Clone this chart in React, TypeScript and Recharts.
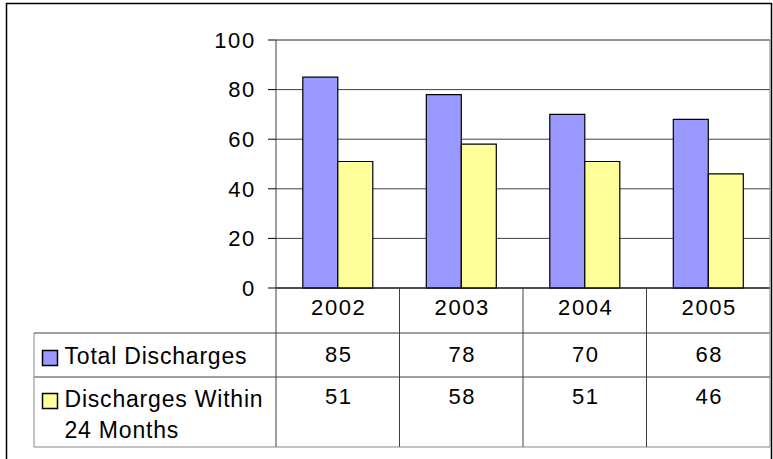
import { Bar, BarChart, CartesianGrid, ReferenceLine, XAxis, YAxis } from "recharts";

const CATEGORIES = ["2002", "2003", "2004", "2005"];
const TOTAL_DISCHARGES = [85, 78, 70, 68];
const WITHIN_24_MONTHS = [51, 58, 51, 46];
const Y_TICKS = [0, 20, 40, 60, 80, 100];
const SERIES_LABELS = [["Total Discharges"], ["Discharges Within", "24 Months"]];

const data = CATEGORIES.map((year, i) => ({
  year,
  total: TOTAL_DISCHARGES[i],
  within: WITHIN_24_MONTHS[i],
}));
const seriesValues = [TOTAL_DISCHARGES, WITHIN_24_MONTHS];
const seriesColors = ["#9999ff", "#ffff99"];

// layout
const W = 773;
const H = 459;
const PLOT_LEFT = 276;
const PLOT_RIGHT = 770;
const PLOT_TOP = 40;
const AXIS_Y = 288;
const TABLE_LEFT = 34;
const ROW_TOPS = [288, 333, 377];
const TABLE_BOTTOM = 447;
const BAND = (PLOT_RIGHT - PLOT_LEFT) / CATEGORIES.length;
const FONT = "'Liberation Sans', Arial, Helvetica, sans-serif";
const numStyle = { fontSize: 22, fill: "#000", fontFamily: FONT, letterSpacing: 1.6 };
const labelStyle = { fontSize: 23, fill: "#000", fontFamily: FONT, letterSpacing: 0.8 };

function TableTick(props: any) {
  const { x, index, payload } = props;
  const left = x - BAND / 2;
  const right = x + BAND / 2;
  const i = index ?? payload?.index ?? 0;
  const last = i === CATEGORIES.length - 1;
  return (
    <g>
      {/* year cell */}
      <text x={x + 1} y={314.5} textAnchor="middle" {...numStyle}>
        {payload.value}
      </text>
      {seriesValues.map((vals, s) => (
        <text key={s} x={x + 1} y={s === 0 ? 362 : 404} textAnchor="middle" {...numStyle}>
          {vals[i]}
        </text>
      ))}
      <line x1={right} x2={right} y1={ROW_TOPS[0]} y2={TABLE_BOTTOM} stroke={last ? "#888" : "#404040"} />
      {i === 0 && (
        <g>
          <line x1={left} x2={left} y1={ROW_TOPS[0]} y2={TABLE_BOTTOM} stroke="#404040" />
          <line x1={TABLE_LEFT} x2={PLOT_RIGHT} y1={ROW_TOPS[1]} y2={ROW_TOPS[1]} stroke="#404040" />
          <line x1={TABLE_LEFT} x2={PLOT_RIGHT} y1={ROW_TOPS[2]} y2={ROW_TOPS[2]} stroke="#404040" />
          <line x1={TABLE_LEFT} x2={PLOT_RIGHT} y1={TABLE_BOTTOM} y2={TABLE_BOTTOM} stroke="#888" />
          <line x1={TABLE_LEFT} x2={TABLE_LEFT} y1={ROW_TOPS[1]} y2={TABLE_BOTTOM} stroke="#888" />
          {SERIES_LABELS.map((lines, s) => (
            <g key={s}>
              <rect
                x={42.5}
                y={s === 0 ? 350.5 : 393.5}
                width={15}
                height={15}
                fill={seriesColors[s]}
                stroke="#000"
                strokeWidth={1.5}
              />
              {lines.map((ln, k) => (
                <text key={k} x={64.5} y={(s === 0 ? 363.5 : 407) + k * 31} {...labelStyle}>
                  {ln}
                </text>
              ))}
            </g>
          ))}
        </g>
      )}
      {last && <line x1={right} x2={right} y1={PLOT_TOP} y2={AXIS_Y} stroke="#888" />}
    </g>
  );
}

export default function App() {
  return (
    <div style={{ position: "relative", width: W, height: H, background: "#fff" }}>
      <style>{`body{margin:0;background:#fff}`}</style>
      <BarChart
        width={W}
        height={H}
        data={data}
        margin={{ top: PLOT_TOP, right: W - PLOT_RIGHT, left: 0, bottom: 0 }}
        barCategoryGap="21.7%"
        barGap={0}
      >
        <rect x={6.5} y={3.5} width={765} height={480} fill="none" stroke="#000" strokeWidth={1.5} />
        <CartesianGrid vertical={false} stroke="#404040" />
        <YAxis
          width={PLOT_LEFT}
          domain={[0, 100]}
          ticks={Y_TICKS}
          interval={0}
          tickSize={8}
          tickMargin={12.2}
          axisLine={{ stroke: "#404040" }}
          tickLine={{ stroke: "#000" }}
          tick={numStyle}
        />
        <XAxis
          dataKey="year"
          height={H - AXIS_Y}
          interval={0}
          tickLine={false}
          tickSize={0}
          axisLine={{ stroke: "#000" }}
          tick={<TableTick />}
        />
        <ReferenceLine y={100} stroke="#888" />
        <Bar dataKey="total" fill={seriesColors[0]} stroke="#000" strokeWidth={1.2} isAnimationActive={false} />
        <Bar dataKey="within" fill={seriesColors[1]} stroke="#000" strokeWidth={1.2} isAnimationActive={false} />
      </BarChart>
    </div>
  );
}
